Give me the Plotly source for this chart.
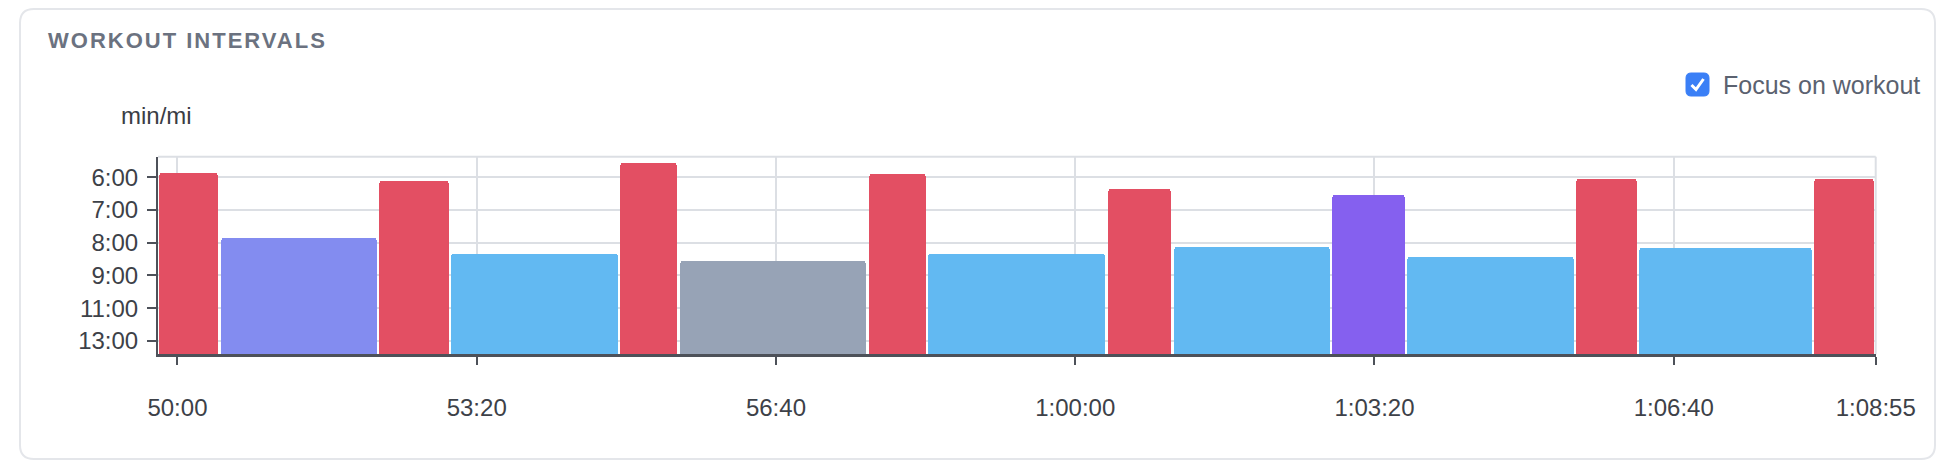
import plotly.graph_objects as go

# ---------------- data ----------------
interval_start_s = [2987, 3028, 3134, 3182, 3295, 3335, 3461, 3501, 3621, 3665, 3771, 3821, 3934, 3976, 4093]
interval_duration_s = [41, 106, 48, 113, 40, 126, 40, 120, 44, 106, 50, 113, 42, 117, 42]
interval_pace_s_per_mi = [352, 451, 362, 484, 341, 499, 354, 483, 372, 468, 380, 489, 360, 471, 359]
interval_type = ["work", "warmup", "work", "recovery", "work", "rest", "work", "recovery",
                 "work", "recovery", "tempo", "recovery", "work", "recovery", "work"]
type_colors = {
    "work": "#e34f63",
    "warmup": "#838cf0",
    "recovery": "#62b9f2",
    "rest": "#97a3b6",
    "tempo": "#8560ef",
}
x_tick_vals = [3000, 3200, 3400, 3600, 3800, 4000, 4135]
x_tick_text = ["50:00", "53:20", "56:40", "1:00:00", "1:03:20", "1:06:40", "1:08:55"]
y_tick_speed_mps = [4.5, 4.0, 3.5, 3.0, 2.5, 2.0]
y_tick_text = ["6:00", "7:00", "8:00", "9:00", "11:00", "13:00"]
x_range = [2987, 4135]
y_range_mps = [1.796, 4.812]
METERS_PER_MILE = 1609.344

# ---------------- geometry / style ----------------
W, H = 1954, 472
L, R, T, B = 158, 1875.7, 156.7, 354.3
GAP_S = 1.7


def px(x):
    return x / W


def py(y):
    return 1 - y / H


speed = [METERS_PER_MILE / p for p in interval_pace_s_per_mi]
centers = [s + d / 2 for s, d in zip(interval_start_s, interval_duration_s)]
widths = [d - GAP_S for d in interval_duration_s]
colors = [type_colors[t] for t in interval_type]

fig = go.Figure(
    go.Bar(
        x=centers,
        y=speed,
        width=widths,
        marker=dict(color=colors, line=dict(width=0), cornerradius=4),
        hoverinfo="skip",
    )
)

AXIS_DARK = "#4d5159"
GRID = "#dcdfe4"
TICK_FONT = dict(family="Liberation Sans, Arial, sans-serif", size=24, color="#3d4148")

fig.update_xaxes(
    domain=[px(L), px(R)],
    range=x_range,
    tickmode="array",
    tickvals=x_tick_vals,
    ticktext=x_tick_text,
    showgrid=True,
    gridcolor=GRID,
    gridwidth=2,
    showline=True,
    linecolor=AXIS_DARK,
    linewidth=2.5,
    ticks="outside",
    ticklen=8,
    tickwidth=2,
    tickcolor=AXIS_DARK,
    tickfont=TICK_FONT,
    ticklabelstandoff=22,
    zeroline=False,
    automargin=False,
)
fig.update_yaxes(
    domain=[py(B), py(T)],
    range=y_range_mps,
    tickmode="array",
    tickvals=y_tick_speed_mps,
    ticktext=y_tick_text,
    showgrid=True,
    gridcolor=GRID,
    gridwidth=2,
    showline=True,
    linecolor=AXIS_DARK,
    linewidth=2,
    ticks="outside",
    ticklen=9,
    tickwidth=2,
    tickcolor=AXIS_DARK,
    tickfont=TICK_FONT,
    ticklabelstandoff=4,
    zeroline=False,
    automargin=False,
)


def rounded_rect(x0, y0, x1, y1, r):
    # pixel coords -> paper path with quadratic corners
    pts = [
        f"M {px(x0 + r)} {py(y0)}",
        f"L {px(x1 - r)} {py(y0)}",
        f"Q {px(x1)} {py(y0)} {px(x1)} {py(y0 + r)}",
        f"L {px(x1)} {py(y1 - r)}",
        f"Q {px(x1)} {py(y1)} {px(x1 - r)} {py(y1)}",
        f"L {px(x0 + r)} {py(y1)}",
        f"Q {px(x0)} {py(y1)} {px(x0)} {py(y1 - r)}",
        f"L {px(x0)} {py(y0 + r)}",
        f"Q {px(x0)} {py(y0)} {px(x0 + r)} {py(y0)}",
        "Z",
    ]
    return " ".join(pts)


shapes = [
    # card
    dict(type="path", xref="paper", yref="paper", path=rounded_rect(20, 9, 1935, 459, 14),
         line=dict(color="#e4e6ea", width=2), fillcolor="rgba(0,0,0,0)", layer="below"),
    # plot frame top and right (grid coloured)
    dict(type="line", xref="paper", yref="paper", x0=px(L), x1=px(R), y0=py(T), y1=py(T),
         line=dict(color=GRID, width=2), layer="below"),
    dict(type="line", xref="paper", yref="paper", x0=px(R), x1=px(R), y0=py(T), y1=py(B),
         line=dict(color=GRID, width=2), layer="below"),
    # checkbox
    dict(type="path", xref="paper", yref="paper", path=rounded_rect(1686, 73, 1709, 96, 5),
         line=dict(color="#3a7ff6", width=1), fillcolor="#3a7ff6", layer="above"),
    dict(type="path", xref="paper", yref="paper",
         path=f"M {px(1691.5)} {py(85)} L {px(1696)} {py(89.5)} L {px(1703.5)} {py(79)}",
         line=dict(color="white", width=3), fillcolor="rgba(0,0,0,0)", layer="above"),
]

annotations = [
    dict(text='<span style="letter-spacing:2px">WORKOUT INTERVALS</span>', xref="paper", yref="paper",
         x=px(46), y=py(40), xanchor="left", yanchor="middle", showarrow=False,
         font=dict(family="Liberation Sans, Arial, sans-serif", size=22, color="#6b7280", weight=700)),
    dict(text="min/mi", xref="paper", yref="paper", x=px(156), y=py(115), xanchor="center",
         yanchor="middle", showarrow=False,
         font=dict(family="Liberation Sans, Arial, sans-serif", size=24, color="#3a3d44")),
    dict(text="Focus on workout", xref="paper", yref="paper", x=px(1721), y=py(85), xanchor="left",
         yanchor="middle", showarrow=False,
         font=dict(family="Liberation Sans, Arial, sans-serif", size=25, color="#5b6270")),
]

fig.update_layout(
    width=W,
    height=H,
    margin=dict(l=0, r=0, t=0, b=0),
    paper_bgcolor="white",
    plot_bgcolor="white",
    showlegend=False,
    bargap=0,
    shapes=shapes,
    annotations=annotations,
)

fig.write_html("out.html")
